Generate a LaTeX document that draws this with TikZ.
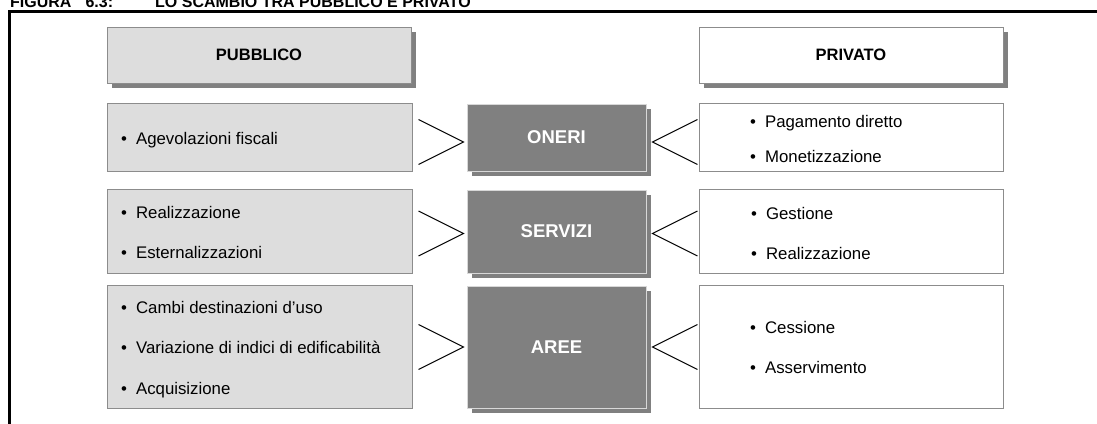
\documentclass[tikz,border=0pt]{standalone}
\usepackage{fontspec}
\setmainfont{Liberation Sans}
\usetikzlibrary{shadows,calc}
\definecolor{lightbox}{HTML}{DDDDDD}
\definecolor{boxline}{HTML}{8C8C8C}
\definecolor{darkbox}{HTML}{808080}
\definecolor{shadowgray}{HTML}{808080}
\definecolor{paleline}{HTML}{D8D8D8}
\tikzset{
  x=1pt, y=-1pt,
  base/.style={draw=boxline, line width=0.9pt, inner sep=0pt, rectangle},
  pubbox/.style={base, fill=lightbox},
  privbox/.style={base, fill=white},
  shadowed/.style={general shadow={fill=shadowgray, shadow xshift=5pt, shadow yshift=-5pt}},
  centerbox/.style={rectangle, inner sep=0pt, draw=paleline, line width=0.9pt, fill=darkbox,
     shadowed, text=white, font=\fontsize{18.5}{21}\selectfont\bfseries},
  headtxt/.style={font=\fontsize{16.5}{19}\selectfont\bfseries},
  item/.style={anchor=base west, inner sep=0pt, font=\fontsize{16.8}{19}\selectfont},
  titletxt/.style={anchor=base west, inner sep=0pt, font=\fontsize{16}{19}\selectfont\bfseries},
  chev/.style={draw=black, line width=1pt}
}
\newcommand{\bul}{\textbullet\hspace{9pt}}
\begin{document}
\begin{tikzpicture}
\useasboundingbox (0,0) rectangle (1097,423);
\clip (0,0) rectangle (1097,423);
% title (cut off at the top, as in the reference)
\node[titletxt] (t1) at (10,7) {FIGURA\hspace{14pt}6.3:};
\node[titletxt] (t2) at (155,7) {LO SCAMBIO TRA PUBBLICO E PRIVATO};
% frame
\draw[line width=2.6pt] (9.5,430) -- (9.5,11.5) -- (1100,11.5);
% headers
\node[pubbox, shadowed, minimum width=304, minimum height=56, headtxt] (hpub) at (259,55) {PUBBLICO};
\node[privbox, shadowed, minimum width=304, minimum height=56, headtxt] (hpriv) at (851,55) {PRIVATO};
% public boxes
\node[pubbox, minimum width=305, minimum height=68] (l1) at (259.5,137) {};
\node[pubbox, minimum width=305, minimum height=84] (l2) at (259.5,231) {};
\node[pubbox, minimum width=305, minimum height=123] (l3) at (259.5,346.5) {};
% private boxes
\node[privbox, minimum width=304, minimum height=68] (r1) at (851,137) {};
\node[privbox, minimum width=304, minimum height=84] (r2) at (851,231) {};
\node[privbox, minimum width=304, minimum height=123] (r3) at (851,346.5) {};
% centre boxes
\node[centerbox, minimum width=179, minimum height=67] (oneri) at (556.5,137.5) {ONERI};
\node[centerbox, minimum width=179, minimum height=83] (servizi) at (556.5,231.5) {SERVIZI};
\node[centerbox, minimum width=179, minimum height=122] (aree) at (556.5,347) {AREE};
% items
\node[item] (a1) at (121,144) {\bul Agevolazioni fiscali};
\node[item] (a2) at (121,218) {\bul Realizzazione};
\node[item] (a3) at (121,258) {\bul Esternalizzazioni};
\node[item] (a4) at (121,313) {\bul Cambi destinazioni d’uso};
\node[item] (a5) at (121,353) {\bul Variazione di indici di edificabilità};
\node[item] (a6) at (121,394) {\bul Acquisizione};
\node[item] (b1) at (750,127) {\bul Pagamento diretto};
\node[item] (b2) at (750,162) {\bul Monetizzazione};
\node[item] (b3) at (751,219) {\bul Gestione};
\node[item] (b4) at (751,259) {\bul Realizzazione};
\node[item] (b5) at (750,333) {\bul Cessione};
\node[item] (b6) at (750,373) {\bul Asservimento};
% chevron tips
\coordinate (lt1) at ($(oneri.west)+(-3,4.5)$);
\coordinate (rt1) at ($(oneri.east)+(6,4.5)$);
\coordinate (lt2) at ($(servizi.west)+(-3,2)$);
\coordinate (rt2) at ($(servizi.east)+(6,2)$);
\coordinate (lt3) at ($(aree.west)+(-3,0)$);
\coordinate (rt3) at ($(aree.east)+(6,0)$);
\foreach \i in {1,2,3}{
  \draw[chev] ($(lt\i)+(-45,-22.5)$) -- (lt\i) -- ($(lt\i)+(-45,22.5)$);
  \draw[chev] ($(rt\i)+(45,-22.5)$) -- (rt\i) -- ($(rt\i)+(45,22.5)$);
}
\end{tikzpicture}
\end{document}
